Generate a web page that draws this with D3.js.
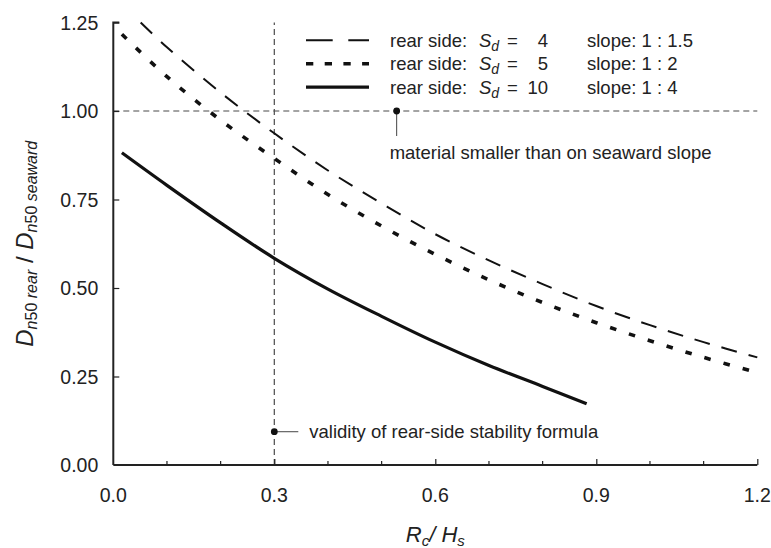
<!DOCTYPE html>
<html>
<head>
<meta charset="utf-8">
<script src="https://cdn.jsdelivr.net/npm/d3@7"></script>
<style>
  body { margin: 0; background: #fff; }
  svg text { font-family: "Liberation Sans", Arial, sans-serif; fill: #222; }
</style>
</head>
<body>
<div id="chart"></div>
<script>
// values
const xTicks = [0.0, 0.3, 0.6, 0.9, 1.2];
const xMinor = [0.1, 0.2, 0.4, 0.5, 0.7, 0.8, 1.0, 1.1];
const yTicks = [0.00, 0.25, 0.50, 0.75, 1.00, 1.25];

// Sd = 4, slope 1:1.5 (long dashes)
const sd4X = [0.051, 0.1, 0.2, 0.3, 0.4, 0.5, 0.6, 0.7, 0.8, 0.9, 1.0, 1.1, 1.2];
const sd4Y = [1.25, 1.18, 1.052, 0.937, 0.832, 0.739, 0.652, 0.578, 0.511, 0.449, 0.395, 0.347, 0.304];
// Sd = 5, slope 1:2 (short dashes)
const sd5X = [0.016, 0.1, 0.2, 0.3, 0.4, 0.5, 0.6, 0.7, 0.8, 0.9, 1.0, 1.1, 1.2];
const sd5Y = [1.217, 1.097, 0.974, 0.866, 0.764, 0.675, 0.595, 0.523, 0.459, 0.402, 0.351, 0.304, 0.261];
// Sd = 10, slope 1:4 (solid)
const sd10X = [0.016, 0.1, 0.2, 0.3, 0.4, 0.5, 0.6, 0.7, 0.8, 0.882];
const sd10Y = [0.882, 0.790, 0.684, 0.584, 0.497, 0.420, 0.347, 0.281, 0.222, 0.173];

const legendSd = ["4", "5", "10"];
const legendSlope = ["1 : 1.5", "1 : 2", "1 : 4"];

const width = 771, height = 548;
const margin = {top: 22.5, right: 13.7, bottom: 83, left: 113.3};

const svg = d3.select("#chart").append("svg")
  .attr("width", width)
  .attr("height", height);

const x = d3.scaleLinear().domain([0, 1.2]).range([margin.left, width - margin.right]);
const y = d3.scaleLinear().domain([0, 1.25]).range([height - margin.bottom, margin.top]);

const series = [
  {xs: sd4X, ys: sd4Y, width: 2, dash: "16,12", legendDash: "26.7,15.6"},
  {xs: sd5X, ys: sd5Y, width: 3.6, dash: "6.5,13.3", legendDash: "7.3,11.4"},
  {xs: sd10X, ys: sd10Y, width: 3.2, dash: null, legendDash: null}
];

// reference lines
svg.append("line")
  .attr("x1", x(0)).attr("x2", x(1.2))
  .attr("y1", y(1)).attr("y2", y(1))
  .attr("stroke", "#4a4a4a").attr("stroke-width", 1.2)
  .attr("stroke-dasharray", "6,4");

svg.append("line")
  .attr("x1", x(0.3)).attr("x2", x(0.3))
  .attr("y1", y(0)).attr("y2", y(1.25))
  .attr("stroke", "#4a4a4a").attr("stroke-width", 1.2)
  .attr("stroke-dasharray", "6,4");

// curves
const line = d3.line()
  .x(d => x(d[0]))
  .y(d => y(d[1]))
  .curve(d3.curveCatmullRom);

series.forEach(s => {
  svg.append("path")
    .datum(s.xs.map((v, i) => [v, s.ys[i]]))
    .attr("fill", "none")
    .attr("stroke", "#111")
    .attr("stroke-width", s.width)
    .attr("stroke-dasharray", s.dash)
    .attr("d", line);
});

// axes
const yAxis = svg.append("g")
  .attr("transform", `translate(${x(0)},0)`)
  .call(d3.axisRight(y).tickValues(yTicks).tickSize(6).tickFormat(""));
yAxis.select(".domain").attr("d", `M6,${y(1.25)}H0V${y(0)}`);

const xAxis = svg.append("g")
  .attr("transform", `translate(0,${y(0)})`)
  .call(d3.axisTop(x).tickValues(xTicks).tickSize(6).tickFormat(""));
xAxis.select(".domain").attr("d", `M${x(0)},0H${x(1.2)}`);
xAxis.selectAll(".minor")
  .data(xMinor)
  .join("line")
  .attr("x1", d => x(d)).attr("x2", d => x(d))
  .attr("y1", 0).attr("y2", -4)
  .attr("stroke", "#222");

[yAxis, xAxis].forEach(a => {
  a.selectAll(".domain").attr("stroke", "#222").attr("stroke-width", 2);
  a.selectAll("line").attr("stroke", "#222").attr("stroke-width", 1.2);
});
xAxis.selectAll(".tick").filter(d => d === 0).remove();
yAxis.selectAll(".tick").filter(d => d === 0).remove();

// tick labels
svg.append("g").selectAll("text")
  .data(yTicks)
  .join("text")
  .attr("x", x(0) - 15)
  .attr("y", d => y(d))
  .attr("dy", "0.36em")
  .attr("text-anchor", "end")
  .style("font-size", "19.5px")
  .text(d3.format(".2f"));

svg.append("g").selectAll("text")
  .data(xTicks)
  .join("text")
  .attr("x", d => x(d))
  .attr("y", y(0) + 37)
  .attr("text-anchor", "middle")
  .style("font-size", "19.5px")
  .text(d3.format(".1f"));

// axis titles
const xTitle = svg.append("text")
  .attr("x", x(0.6))
  .attr("y", 541.5)
  .attr("text-anchor", "middle")
  .style("font-size", "22px")
  .style("font-style", "italic");
xTitle.append("tspan").text("R");
xTitle.append("tspan").attr("dy", 4).style("font-size", "15px").text("c");
xTitle.append("tspan").attr("dy", -4).text("/ H");
xTitle.append("tspan").attr("dy", 4).style("font-size", "15px").text("s");

const yTitle = svg.append("text")
  .attr("transform", `translate(33,${(y(0) + y(1.25)) / 2}) rotate(-90)`)
  .attr("text-anchor", "middle")
  .style("font-size", "24px");
yTitle.append("tspan").style("font-style", "italic").text("D");
yTitle.append("tspan").attr("dy", 4).style("font-size", "16px").style("font-style", "italic").text("n");
yTitle.append("tspan").style("font-size", "16px").text("50 ");
yTitle.append("tspan").style("font-size", "16px").style("font-style", "italic").text("rear");
yTitle.append("tspan").attr("dy", -4).text(" / ");
yTitle.append("tspan").style("font-style", "italic").text("D");
yTitle.append("tspan").attr("dy", 4).style("font-size", "16px").style("font-style", "italic").text("n");
yTitle.append("tspan").style("font-size", "16px").text("50 ");
yTitle.append("tspan").style("font-size", "16px").style("font-style", "italic").text("seaward");

// legend
const legend = svg.append("g");
series.forEach((s, i) => {
  const ly = 40.3 + i * 23.4;
  legend.append("line")
    .attr("x1", 306).attr("x2", 369)
    .attr("y1", ly).attr("y2", ly)
    .attr("stroke", "#111")
    .attr("stroke-width", i === 0 ? 2 : 3.4)
    .attr("stroke-dasharray", s.legendDash);
  const t = legend.append("g").style("font-size", "18.5px");
  t.append("text").attr("x", 390).attr("y", ly).attr("dy", "0.35em").text("rear side:");
  const sd = t.append("text").attr("x", 479).attr("y", ly).attr("dy", "0.35em").style("font-style", "italic");
  sd.append("tspan").text("S");
  sd.append("tspan").attr("dy", 4).style("font-size", "14px").text("d");
  t.append("text").attr("x", 507).attr("y", ly).attr("dy", "0.35em").text("=");
  t.append("text").attr("x", 548).attr("y", ly).attr("dy", "0.35em").attr("text-anchor", "end").text(legendSd[i]);
  t.append("text").attr("x", 587).attr("y", ly).attr("dy", "0.35em").text("slope: " + legendSlope[i]);
});

// annotations
const notes = [
  {px: 0.528, py: 1.0, text: "material smaller than on seaward slope", dir: "down"},
  {px: 0.3, py: 0.094, text: "validity of rear-side stability formula", dir: "right"}
];
notes.forEach(n => {
  const cx = x(n.px), cy = y(n.py);
  if (n.dir === "down") {
    svg.append("line").attr("x1", cx).attr("x2", cx).attr("y1", cy).attr("y2", cy + 25)
      .attr("stroke", "#444").attr("stroke-width", 1);
    svg.append("text").attr("x", cx - 7).attr("y", cy + 47.5)
      .style("font-size", "18.5px").text(n.text);
  } else {
    svg.append("line").attr("x1", cx).attr("x2", cx + 24).attr("y1", cy).attr("y2", cy)
      .attr("stroke", "#444").attr("stroke-width", 1);
    svg.append("text").attr("x", cx + 35).attr("y", cy).attr("dy", "0.35em")
      .style("font-size", "18.5px").text(n.text);
  }
  svg.append("circle").attr("cx", cx).attr("cy", cy).attr("r", 3.4).attr("fill", "#111");
});
</script>
</body>
</html>
